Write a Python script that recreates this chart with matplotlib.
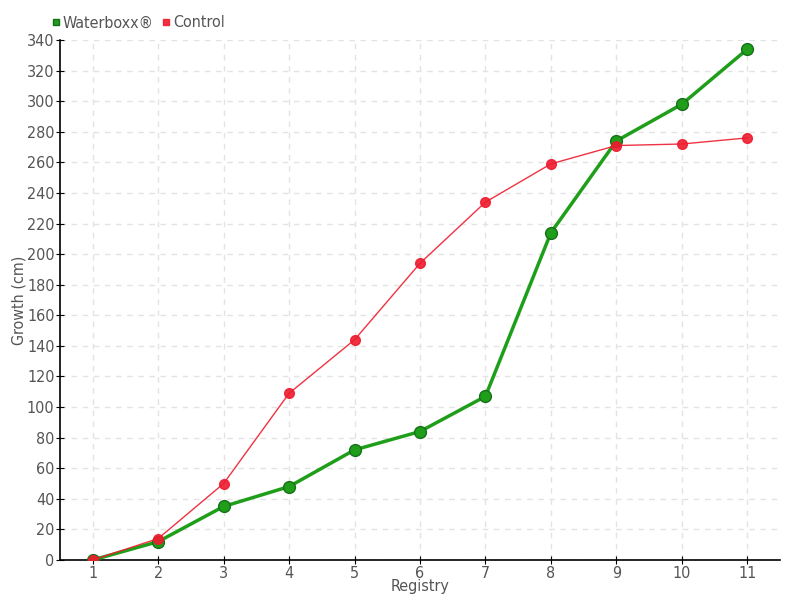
import numpy as np
import matplotlib
matplotlib.use("Agg")
import matplotlib.pyplot as plt

plt.rcParams["font.family"] = ["DejaVu Sans"]
plt.rcParams["font.stretch"] = "condensed"

registry = list(range(1, 12))
waterboxx = [0, 12, 35, 48, 72, 84, 107, 214, 274, 298, 334]
control = [0, 14, 50, 109, 144, 194, 234, 259, 271, 272, 276]

green = "#1f9e1a"
red = "#ee1c2e"

fig = plt.figure(figsize=(8, 6), dpi=100)
ax = fig.add_axes([0.075, 0.0667, 0.9, 0.8666])

ax.plot(registry, waterboxx, color=green, lw=2.5, marker="o", ms=8.5,
        mfc=green, mec="#16701a", mew=1, zorder=3, label="Waterboxx®")
ax.plot(registry, control, color=red, lw=1, alpha=0.9, marker="o", ms=7,
        mfc=red, mec=red, zorder=4, label="Control")

ax.set_xlim(0.5, 11.5)
ax.set_ylim(0, 340)
ax.set_xticks(registry)
ax.set_yticks(np.arange(0, 341, 20))
ax.grid(True, ls=(0, (4, 4)), color="#e3e3e3", lw=1)
ax.set_axisbelow(True)

for s in ["top", "right"]:
    ax.spines[s].set_visible(False)
ax.spines["left"].set_linewidth(1.2)
ax.spines["bottom"].set_linewidth(1.2)
ax.tick_params(labelcolor="#555555", labelsize=11.5, direction="inout",
               length=6, color="black", pad=1)

ax.set_xlabel("Registry", color="#555555", fontsize=11.5, labelpad=-1)
ax.set_ylabel("Growth (cm)", color="#555555", fontsize=11.5, labelpad=0)

ax.legend(loc="lower left", bbox_to_anchor=(-0.025, 1.0), ncol=2, frameon=False,
          fontsize=11.5, handlelength=0.5, handletextpad=0.2, columnspacing=0.5,
          labelcolor="#555555", borderaxespad=0.2)
leg = ax.get_legend()
for h in leg.legend_handles:
    h.set_marker("s")
    h.set_markersize(5)
    h.set_linestyle("none")

fig.savefig("out.png")
